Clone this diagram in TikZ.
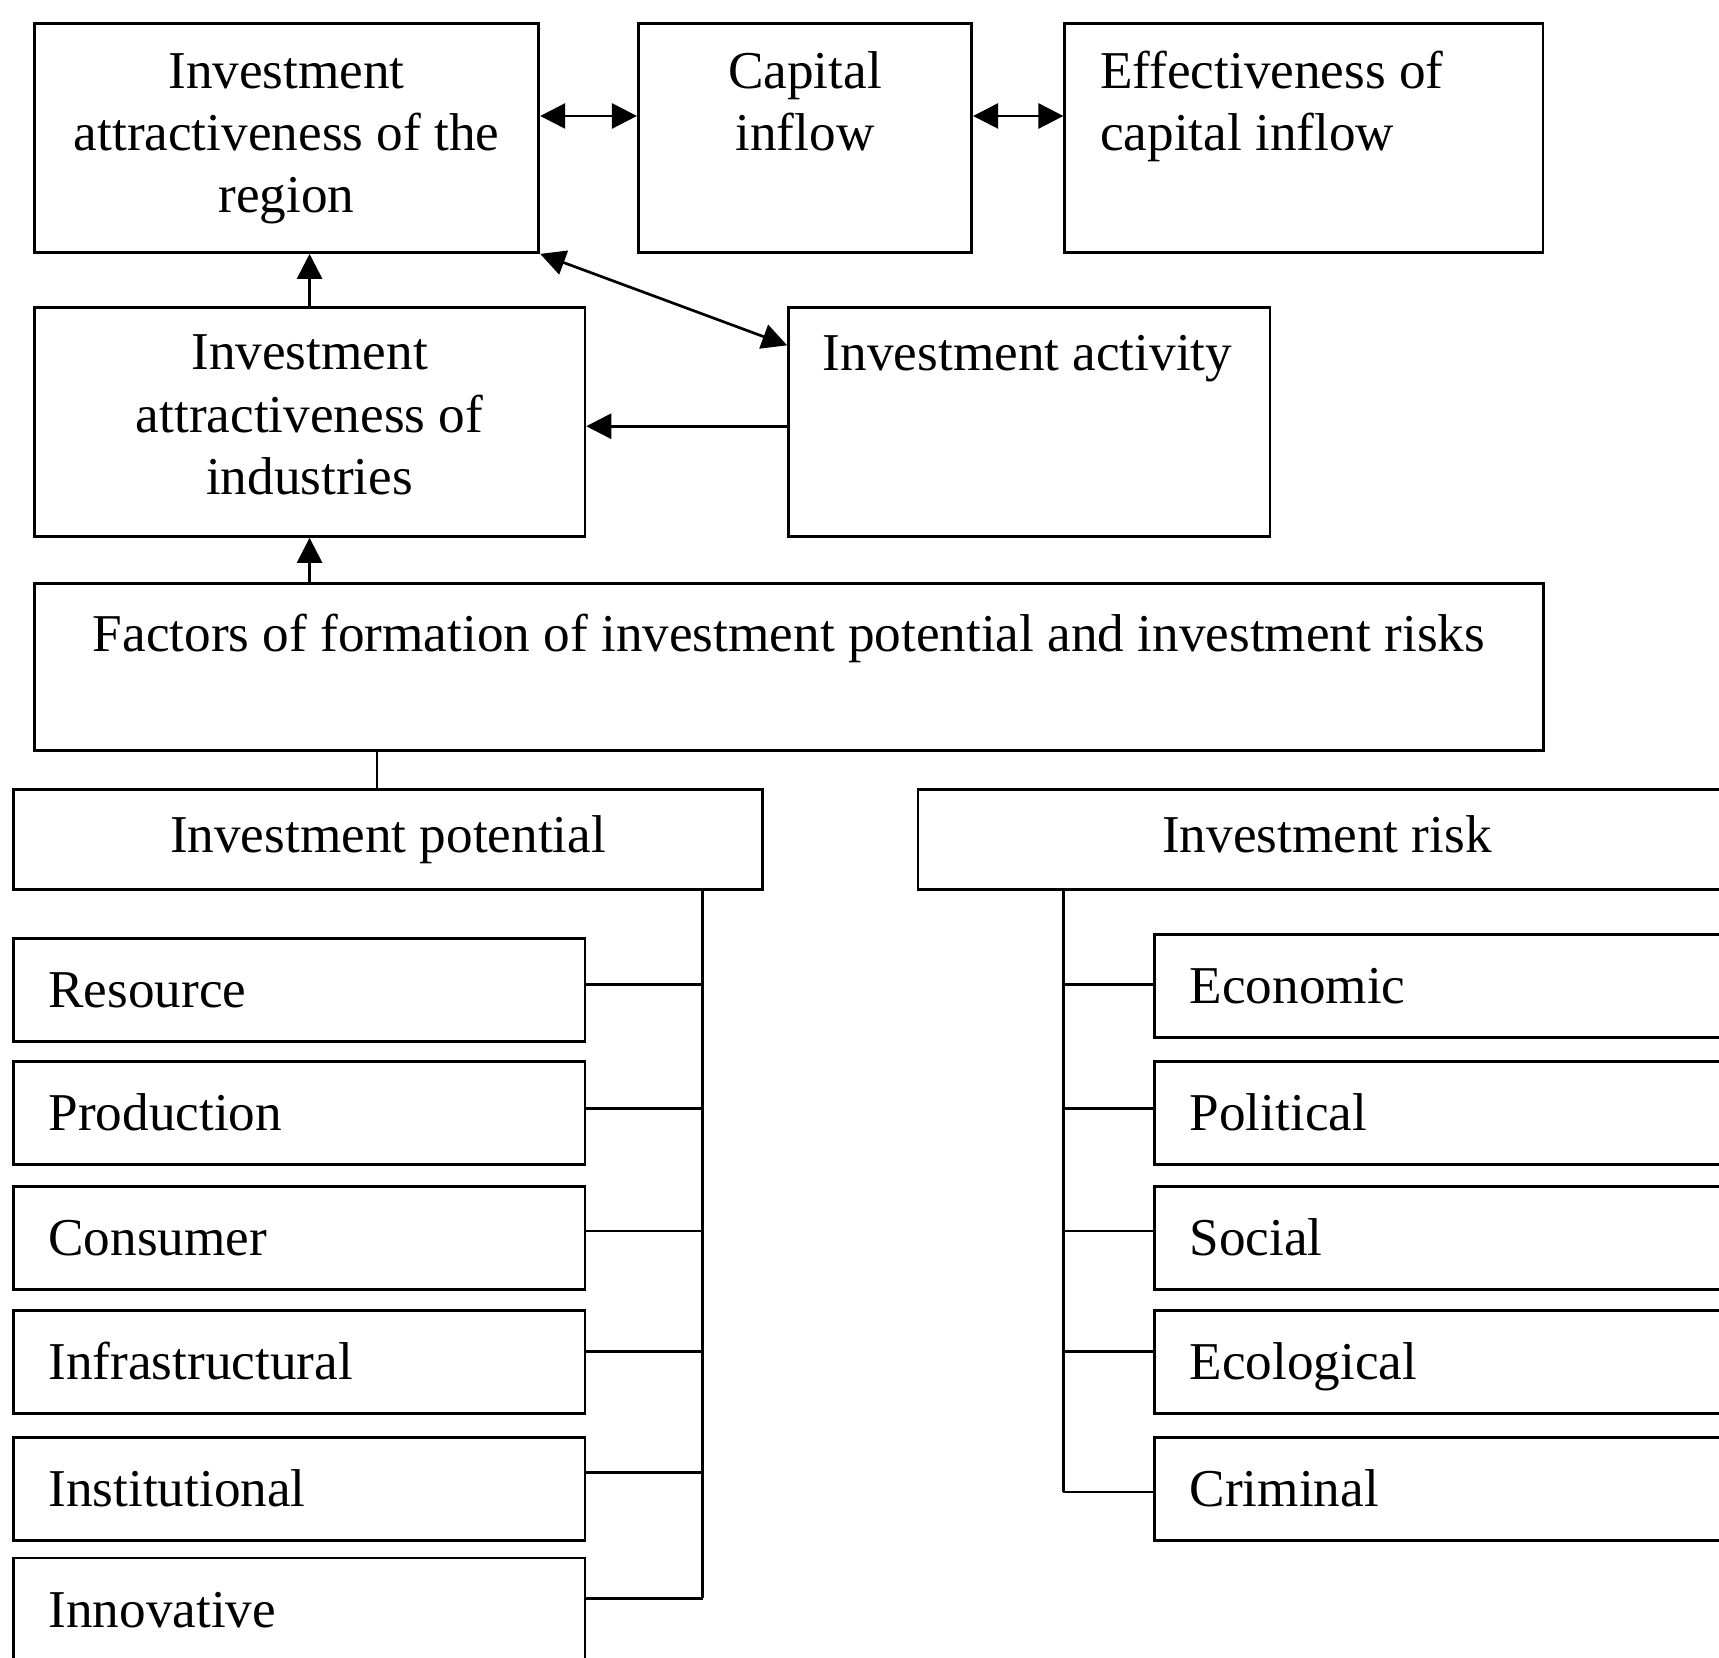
\documentclass[tikz,border=0pt]{standalone}
\usepackage{fontspec}
\setmainfont{Liberation Serif}
\usetikzlibrary{calc}
\usetikzlibrary{arrows.meta}
\usetikzlibrary{positioning}

\tikzset{
  box/.style={draw, line width=0.7pt, inner sep=0pt, anchor=north west},
  toptext/.style={anchor=north, align=center, inner sep=0pt},
  lefttext/.style={anchor=north west, align=left, inner sep=0pt},
  headbox/.style={box, minimum height=0.91cm, text height=0.85em, text depth=0.15em},
  itembox/.style={box, minimum height=0.94cm, inner xsep=0.32cm, align=left,
                  text width=4.57cm, text height=0.95em, text depth=0.05em},
  link/.style={line width=0.7pt},
  arr/.style={link, -{Triangle[length=6.5pt,width=6.5pt]}},
  darr/.style={link, {Triangle[length=6.5pt,width=6.5pt]}-{Triangle[length=6.5pt,width=6.5pt]}}
}

\begin{document}
\begin{tikzpicture}[x=0.01cm, y=-0.01cm, font=\fontsize{13.8}{16.1}\selectfont]
            \useasboundingbox (0,0) rectangle (1568,1512);
            \clip (0,0) rectangle (1568,1512);

            % upper blocks
            \node[box, minimum width=4.60cm,  minimum height=2.09cm] (region)     at (  30,  20) {};
            \node[box, minimum width=3.04cm,  minimum height=2.09cm] (inflow)     at ( 581,  20) {};
            \node[box, minimum width=4.36cm,  minimum height=2.09cm] (effect)     at ( 970,  20) {};
            \node[box, minimum width=5.02cm,  minimum height=2.09cm] (industries) at (  30, 279) {};
            \node[box, minimum width=4.39cm,  minimum height=2.09cm] (activity)   at ( 718, 279) {};
            \node[box, minimum width=13.76cm, minimum height=1.52cm] (factors)    at (  30, 531) {};

            \node[toptext]  (region-t)     at ($(region.north)+(0,28)$)          {Investment\\attractiveness of the\\region};
            \node[toptext]  (inflow-t)     at ($(inflow.north)+(0,26)$)          {Capital\\inflow};
            \node[lefttext] (effect-t)     at ($(effect.north west)+(33,26)$)    {Effectiveness of\\capital inflow};
            \node[toptext]  (industries-t) at ($(industries.north)+(0,26)$)      {Investment\\attractiveness of\\industries};
            \node[lefttext] (activity-t)   at ($(activity.north west)+(32,26)$)  {Investment activity};
            \node[toptext]  (factors-t)    at ($(factors.north)+(0,28)$)         {Factors of formation of investment potential and investment risks};

            \coordinate (region-in)   at ($(region.east)+(0,-20)$);
            \coordinate (inflow-in)   at ($(inflow.east)+(0,-20)$);
            \coordinate (activity-in) at ($(activity.north west)+(0,36)$);
            \coordinate (activity-out) at ($(activity.west)+(0,4)$);

            \draw[darr] (region-in) -- (region-in -| inflow.west);
            \draw[darr] (inflow-in) -- (inflow-in -| effect.west);
            \draw[darr] (region.south east) -- (activity-in);
            \draw[arr]  (activity-out) -- (activity-out -| industries.east);
            \draw[arr]  (industries.north) -- (industries.north |- region.south);
            \draw[arr]  (factors.north -| industries.north) -- (industries.south);

            % potential and risk
            \node[headbox, minimum width=6.83cm] (potential) at ( 11, 719) {Investment potential};
            \node[headbox, minimum width=7.46cm] (risk)      at (836, 719) {Investment risk};

            \coordinate (pottap) at ($(potential.north)+(-10,0)$);
            \draw[link] (pottap |- factors.south) -- (pottap);

            \coordinate (potbus)  at (641, 0);
            \coordinate (riskbus) at (970, 0);

            \foreach \lbl/\top/\off [count=\i] in {Resource/855/43, Production/967/44, Consumer/1081/42,
                                                  Infrastructural/1194/39, Institutional/1310/33, Innovative/1420/38}{
                \node[itembox] (pot-\i) at (11, \top) {\lbl};
                \coordinate (pb-\i) at ($(pot-\i.north east)+(0,\off)$);
                \draw[link] (pb-\i) -- (pb-\i -| potbus);
            }
            \draw[link] (potential.south -| potbus) -- (pb-6 -| potbus);

            \foreach \lbl/\top/\off [count=\i] in {Economic/851/47, Political/967/44, Social/1081/42,
                                                  Ecological/1194/39, Criminal/1310/51}{
                \node[itembox, text width=4.66cm] (risk-\i) at (1052, \top) {\lbl};
                \coordinate (rb-\i) at ($(risk-\i.north west)+(0,\off)$);
                \draw[link] (rb-\i) -- (rb-\i -| riskbus);
            }
            \draw[link] (risk.south -| riskbus) -- (rb-5 -| riskbus);
\end{tikzpicture}
\end{document}
